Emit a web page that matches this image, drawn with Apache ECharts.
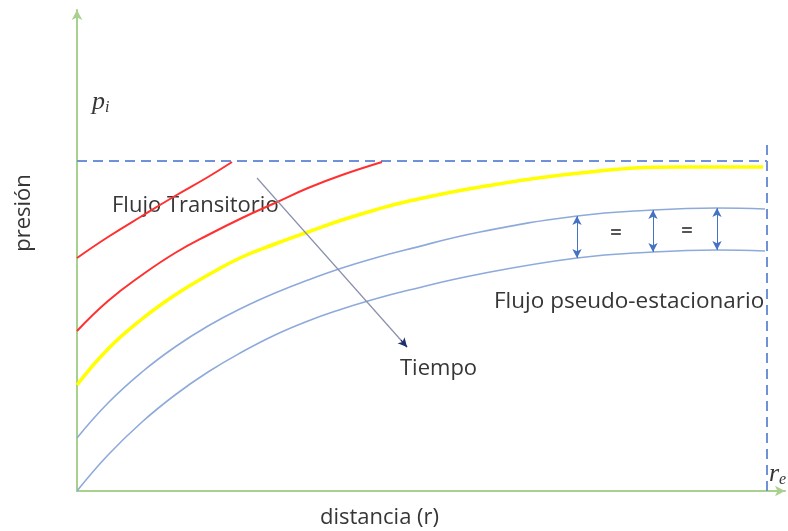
<!DOCTYPE html>
<html>
<head>
<meta charset="utf-8">
<script src="https://cdn.jsdelivr.net/npm/echarts@6/dist/echarts.min.js"></script>
<style>html,body{margin:0;padding:0;background:#fff}#c{width:788px;height:531px}</style>
</head>
<body>
<div id="c"></div>
<script>
// Data: x = distancia, y = presión (arbitrary units)
const red1   = [[0,233],[31,254],[65,275],[98,295],[131,314],[155,329]];
const red2   = [[0,160],[31,190],[65,216],[98,238],[131,256],[165,273],[198,288],[231,303],[265,316],[305,329]];
const yellow = [[0,106],[31,142],[65,172],[98,196],[131,216],[165,234],[198,247],[231,259],[265,271],[298,281],[328,289],[403,304],[503,318],[603,324],[686,324]];
const blue1  = [[0,53],[31,88],[65,119],[98,144],[131,165],[165,183],[198,198],[231,211],[265,223],[298,233],[328,241],[403,259],[500,275],[576,281],[640,283],[688,282]];
const blue2  = [[0,0],[31,36],[65,69],[98,96],[131,119],[165,139],[198,156],[231,170],[265,182],[291,190],[328,200],[403,217],[500,233],[576,239],[640,241],[688,240]];
const piLevel = 330;
const reX = 690;
const reTop = 351;
const gapX = [500, 576, 640];
const gapLow = [233, 239, 241];
const gapHigh = [275, 281, 283];
const timeArrow = [[180,313],[330,144]];

const chart = echarts.init(document.getElementById('c'), null, {renderer:'canvas'});
const axisStyle = {show:true, symbol:['none','arrow'], symbolSize:[8,10], lineStyle:{color:'#a9d18e', width:2}};
const curve = (data, color, width) => ({
  type:'line', data, smooth:0.45, showSymbol:false, symbol:'none', silent:true,
  lineStyle:{color, width}, z:3
});
const FONT = '22px "Open Sans"';
const txt = (x, y, t, extra) => Object.assign({type:'text', x, y, style:Object.assign({text:t, fill:'#363636', font:FONT, textVerticalAlign:'middle'}, extra||{})});
const mathRich = {p:{font:'italic 26px "Liberation Serif"', fill:'#363636'}, i:{font:'italic 16px "Liberation Serif"', fill:'#363636', padding:[12,0,0,0]}};

chart.setOption({
  animation:false,
  grid:{left:77, right:3, top:10, bottom:40},
  xAxis:{type:'value', min:0, max:708, axisLine:axisStyle, axisTick:{show:false}, axisLabel:{show:false}, splitLine:{show:false}},
  yAxis:{type:'value', min:0, max:481, axisLine:axisStyle, axisTick:{show:false}, axisLabel:{show:false}, splitLine:{show:false}},
  series:[
    curve(red1, '#ff3030', 2),
    curve(red2, '#ff3030', 2),
    curve(yellow, '#ffff00', 3.5),
    curve(blue1, '#8eaadb', 1.6),
    curve(blue2, '#8eaadb', 1.6),
    {type:'line', data:[[0,piLevel],[reX,piLevel]], showSymbol:false, symbol:'none', silent:true,
     lineStyle:{color:'#7090d8', width:2, type:[10,6]}, z:2},
    {type:'line', data:[[reX,0],[reX,reTop]], showSymbol:false, symbol:'none', silent:true,
     lineStyle:{color:'#7090d8', width:2, type:[10,6]}, z:2},
    {type:'line', data:[], silent:true,
     markLine:{silent:true, symbol:['none','none'], label:{show:false},
       lineStyle:{color:'#8a90ac', width:1.2, type:'solid'},
       data:[[{coord:timeArrow[0]},{coord:timeArrow[1]}]]}},
    {type:'line', data:[], silent:true,
     markLine:{silent:true, symbol:['none','arrow'], symbolSize:[7,9], label:{show:false},
       lineStyle:{color:'#1f2f6e', width:1.2, type:'solid'},
       data:[[{coord:[timeArrow[1][0]-6, timeArrow[1][1]+6.8]},{coord:timeArrow[1]}]]}},
    {type:'line', data:[], silent:true,
     markLine:{silent:true, symbol:['arrow','arrow'], symbolSize:[7,9], label:{show:false},
       lineStyle:{color:'#4472c4', width:1, type:'solid'},
       data:gapX.map((x,i)=>[{coord:[x,gapLow[i]]},{coord:[x,gapHigh[i]]}])}}
  ],
  graphic:[
    {type:'text', x:92, y:88, style:{rich:mathRich, text:'{p|p}{i|i}'}},
    txt(112, 206, 'Flujo Transitorio'),
    txt(400, 369, 'Tiempo'),
    txt(494, 302, 'Flujo pseudo-estacionario', {font:'22.5px "Open Sans"'}),
    txt(320, 518, 'distancia (r)'),
    {type:'text', x:24, y:213, rotation:Math.PI/2, style:{text:'presión', fill:'#363636', font:FONT, textAlign:'center', textVerticalAlign:'middle'}},
    {type:'text', x:769, y:460, style:{rich:mathRich, text:'{p|r}{i|e}'}},
    txt(616, 233, '=', {font:'bold 20px "Open Sans"', fill:'#555', textAlign:'center'}),
    txt(687, 231, '=', {font:'bold 20px "Open Sans"', fill:'#555', textAlign:'center'})
  ]
});
</script>
</body>
</html>
